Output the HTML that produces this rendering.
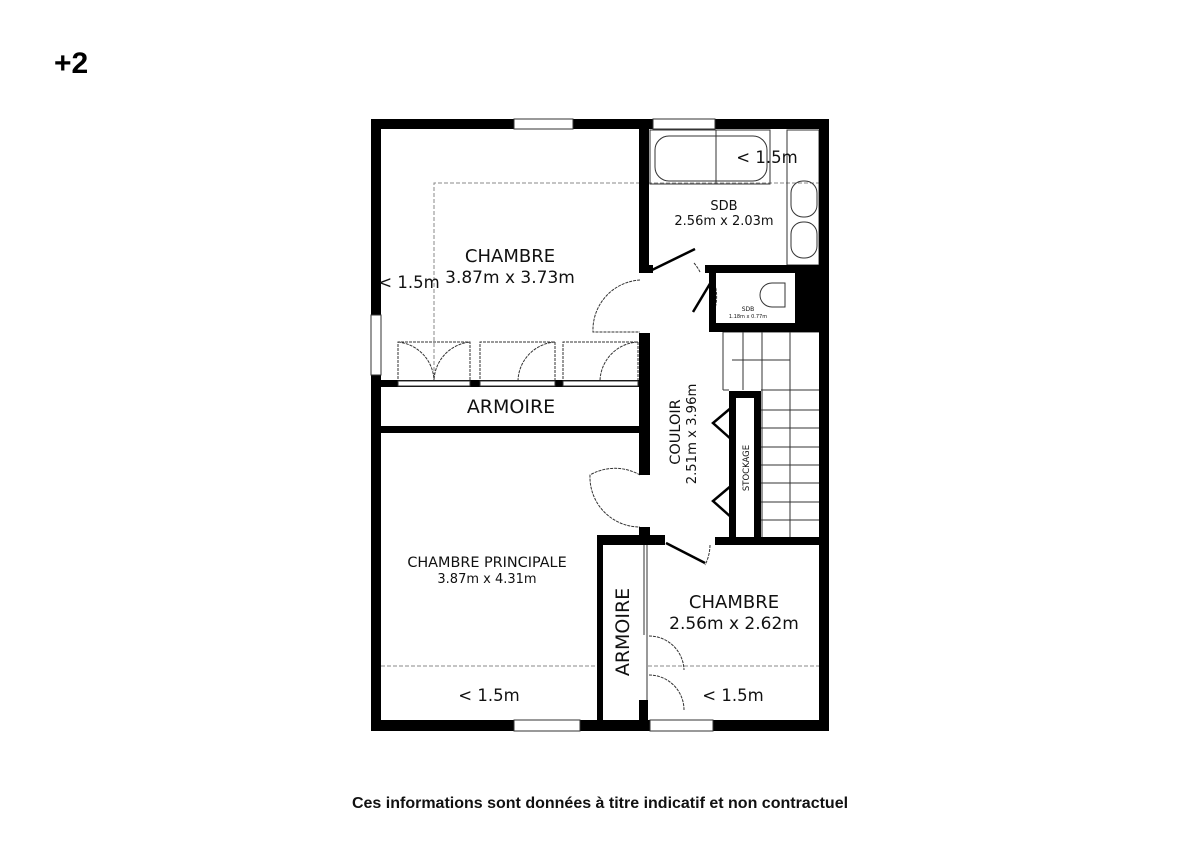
<!DOCTYPE html>
<html><head><meta charset="utf-8"><style>
body{margin:0;background:#fff;width:1200px;height:849px;overflow:hidden;font-family:"Liberation Sans","DejaVu Sans",sans-serif}
</style></head><body>
<svg width="1200" height="849" viewBox="0 0 1200 849" xmlns="http://www.w3.org/2000/svg" font-family="'DejaVu Sans','Liberation Sans',sans-serif">
<rect width="1200" height="849" fill="#fff"/>
<text x="54" y="73" font-size="30" font-weight="bold" font-family="'Liberation Sans',sans-serif">+2</text>
<!-- dashed lines -->
<g stroke="#888" stroke-dasharray="4,2" fill="none" stroke-width="1">
<path d="M434 383 V183 H819"/>
<path d="M381 666 H597"/>
<path d="M648 666 H819"/>
</g>
<!-- bath -->
<g stroke="#333" fill="none" stroke-width="1">
<rect x="650" y="130" width="120" height="54"/>
<rect x="655" y="136" width="112" height="45" rx="14"/>
<line x1="716" y1="130" x2="716" y2="184"/>
<rect x="787" y="130" width="32" height="135"/>
<rect x="791" y="181" width="26" height="36" rx="12"/>
<rect x="791" y="222" width="26" height="36" rx="12"/>
<path d="M780 283 H772 a12 12 0 0 0 0 24 H785 V283 Z"/>
<!-- stairs -->
<line x1="723" y1="332" x2="723" y2="390"/>
<line x1="743" y1="332" x2="743" y2="390"/>
<line x1="762" y1="332" x2="762" y2="537"/>
<line x1="790" y1="332" x2="790" y2="537"/>
<path d="M723 332 H819 M723 390 H729 M761 390 H819 M761 410 H819 M761 428 H819 M761 447 H819 M761 465 H819 M761 483 H819 M761 502 H819 M761 520 H819"/>
<path d="M732 360 H790 V537"/>
<!-- door arcs -->
<path d="M640 280 A50 50 0 0 0 593 332 H640" stroke-dasharray="3,1"/>
<path d="M640 475 A50 50 0 0 0 590 475 A50 50 0 0 0 640 527" stroke-dasharray="3,1"/>
<path d="M398 383 V342 H470 V383 M398 342 A40 40 0 0 1 434 383 A40 40 0 0 1 470 342" stroke-dasharray="3,1"/>
<path d="M480 383 V342 H555 V383 M555 342 A40 40 0 0 0 518 383" stroke-dasharray="3,1"/>
<path d="M563 383 V342 H638 V383 M638 342 A40 40 0 0 0 600 383" stroke-dasharray="3,1"/>
<path d="M649 636 A35 35 0 0 1 684 670 M649 675 A35 35 0 0 1 684 710" stroke-dasharray="3,1"/>
<line x1="644" y1="545" x2="644" y2="635"/>
<line x1="647" y1="545" x2="647" y2="720"/>
<path d="M710 273 A45 45 0 0 1 710 320" stroke-dasharray="3,1"/>
<path d="M694 263 A45 45 0 0 1 700 272" stroke-dasharray="3,1"/>
<path d="M710 545 A45 45 0 0 1 705 565" stroke-dasharray="3,1"/>
<line x1="640" y1="387" x2="640" y2="427"/>
</g>
<!-- door leaves -->
<g stroke="#000" stroke-width="2.5">
<line x1="652" y1="270" x2="695" y2="249"/>
<line x1="714" y1="277" x2="693" y2="312"/>
<line x1="666" y1="543" x2="705" y2="563"/>
<path d="M732 407 L713 423 L732 440 M732 485 L713 501 L732 518" fill="none"/>
</g>
<!-- walls -->
<g fill="#000">
<rect x="371" y="119" width="458" height="10"/>
<rect x="371" y="119" width="10" height="612"/>
<rect x="819" y="119" width="10" height="612"/>
<rect x="371" y="720" width="458" height="11"/>
<rect x="639" y="119" width="10" height="153"/>
<rect x="639" y="333" width="11" height="142"/>
<rect x="639" y="527" width="11" height="18"/>
<rect x="639" y="265" width="14" height="8"/>
<rect x="705" y="265" width="124" height="8"/>
<rect x="709" y="265" width="7" height="67"/>
<rect x="709" y="323" width="120" height="9"/>
<rect x="795" y="265" width="34" height="67"/>
<rect x="381" y="380" width="258" height="7"/>
<rect x="381" y="426" width="258" height="7"/>
<rect x="729" y="391" width="32" height="7"/>
<rect x="729" y="391" width="7" height="154"/>
<rect x="754" y="391" width="7" height="154"/>
<rect x="597" y="535" width="68" height="10"/>
<rect x="715" y="537" width="114" height="8"/>
<rect x="597" y="535" width="6" height="190"/>
<rect x="639" y="700" width="9" height="25"/>
</g>
<!-- gaps (openings) -->
<g fill="#fff" stroke="#333" stroke-width="1">
<rect x="514" y="119" width="59" height="10"/>
<rect x="653" y="119" width="62" height="10"/>
<rect x="371" y="315" width="10" height="60"/>
<rect x="514" y="720" width="66" height="11"/>
<rect x="650" y="720" width="63" height="11"/>
<rect x="398" y="381" width="72" height="5"/>
<rect x="480" y="381" width="75" height="5"/>
<rect x="563" y="381" width="75" height="5"/>
</g>
<!-- texts -->
<g fill="#111" text-anchor="middle">
<text x="510" y="262" font-size="18">CHAMBRE</text>
<text x="510" y="283" font-size="17">3.87m x 3.73m</text>
<text x="409" y="288" font-size="16.5">&lt; 1.5m</text>
<text x="767" y="163" font-size="16.5">&lt; 1.5m</text>
<text x="724" y="210" font-size="13">SDB</text>
<text x="724" y="225" font-size="13">2.56m x 2.03m</text>
<text x="748" y="311" font-size="6">SDB</text>
<text x="748" y="318" font-size="5">1.18m x 0.77m</text>
<text x="511" y="413" font-size="19">ARMOIRE</text>
<text x="487" y="567" font-size="14.4">CHAMBRE PRINCIPALE</text>
<text x="487" y="583" font-size="13">3.87m x 4.31m</text>
<text x="489" y="701" font-size="16.5">&lt; 1.5m</text>
<text x="734" y="608" font-size="18">CHAMBRE</text>
<text x="734" y="629" font-size="17">2.56m x 2.62m</text>
<text x="733" y="701" font-size="16.5">&lt; 1.5m</text>
<text transform="translate(629 632) rotate(-90)" font-size="19">ARMOIRE</text>
<text transform="translate(680 432) rotate(-90)" font-size="14.5">COULOIR</text>
<text transform="translate(696 434) rotate(-90)" font-size="13.2">2.51m x 3.96m</text>
<text transform="translate(749 468) rotate(-90)" font-size="8.5">STOCKAGE</text>
<text x="600" y="808" font-size="16" font-weight="bold" font-family="'Liberation Sans',sans-serif">Ces informations sont données à titre indicatif et non contractuel</text>
</g>
</svg>
</body></html>
